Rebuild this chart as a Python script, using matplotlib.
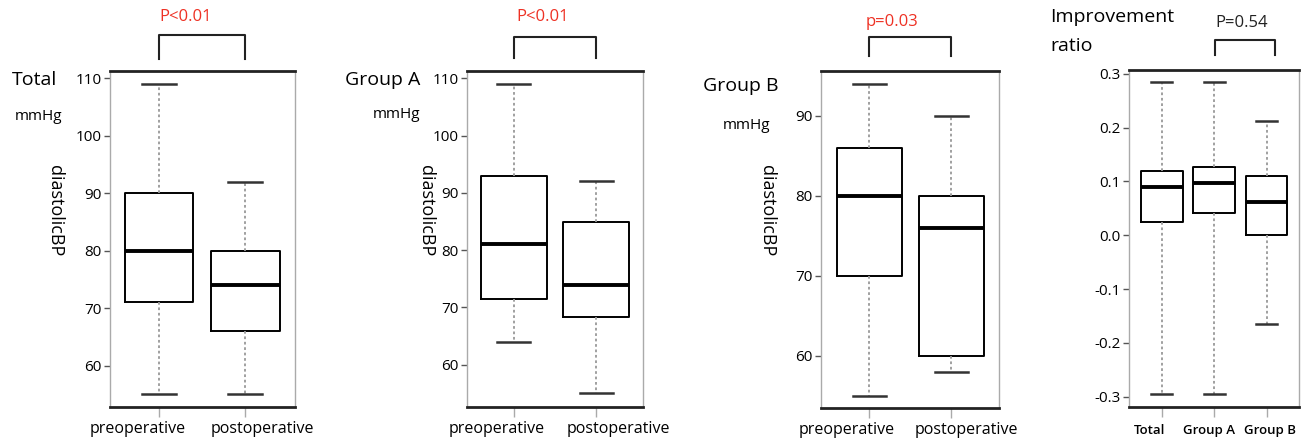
import matplotlib
matplotlib.use("Agg")
import matplotlib.pyplot as plt
import matplotlib.transforms as mtransforms

plt.rcParams['font.family'] = ['Open Sans', 'DejaVu Sans']

W, H = 1314, 440

# ---- data ----
bp_labels = ["preoperative", "postoperative"]

total_whislo = [55, 55]
total_q1 = [71, 66]
total_med = [80, 74]
total_q3 = [90, 80]
total_whishi = [109, 92]

groupA_whislo = [64, 55]
groupA_q1 = [71.5, 68.3]
groupA_med = [81, 74]
groupA_q3 = [93, 85]
groupA_whishi = [109, 92]

groupB_whislo = [55, 58]
groupB_q1 = [70, 60]
groupB_med = [80, 76]
groupB_q3 = [86, 80]
groupB_whishi = [94, 90]

ratio_labels = ["Total", "Group A", "Group B"]
ratio_whislo = [-0.295, -0.295, -0.165]
ratio_q1 = [0.025, 0.042, 0.0]
ratio_med = [0.090, 0.098, 0.061]
ratio_q3 = [0.120, 0.127, 0.111]
ratio_whishi = [0.285, 0.285, 0.213]

p_texts = ["P<0.01", "P<0.01", "p=0.03", "P=0.54"]


def stats(labels, lo, q1, med, q3, hi):
    return [dict(label=l, whislo=a, q1=b, med=c, q3=d, whishi=e, fliers=[])
            for l, a, b, c, d, e in zip(labels, lo, q1, med, q3, hi)]


fig = plt.figure(figsize=(W / 100, H / 100), dpi=100)


def px_axes(left, top, right, bottom):
    return fig.add_axes([left / W, (H - bottom) / H, (right - left) / W, (bottom - top) / H])


def style_box(ax, st, ylim, yticks, xlim, label_shifts, tick_fmt=None, xtick_bold=False):
    n = len(st)
    ax.bxp(st, positions=range(1, n + 1), widths=0.8, showfliers=False,
           boxprops=dict(color='black', linewidth=1.4),
           medianprops=dict(color='black', linewidth=2.8),
           whiskerprops=dict(color='#999999', linewidth=1.3, linestyle=(0, (1.5, 1.5))),
           capprops=dict(color='#333333', linewidth=1.8), capwidths=0.4)
    ax.set_ylim(*ylim)
    ax.set_xlim(*xlim)
    ax.set_yticks(yticks)
    if tick_fmt:
        ax.set_yticklabels([tick_fmt.format(v) for v in yticks])
    for s in ['top', 'bottom']:
        ax.spines[s].set_linewidth(2.0)
        ax.spines[s].set_color('#222222')
    for s in ['left', 'right']:
        ax.spines[s].set_linewidth(1.0)
        ax.spines[s].set_color('#aaaaaa')
        ax.spines[s].set_linestyle((0, (1, 1)))
    ax.tick_params(axis='y', length=4, width=1, color='#555555', labelsize=11, pad=2)
    ax.tick_params(axis='x', length=7, width=1, color='#aaaaaa',
                   labelsize=(9.5 if xtick_bold else 11.5), pad=(5.5 if xtick_bold else 3))
    for t, dx in zip(ax.get_xticklabels(), label_shifts):
        t.set_transform(t.get_transform() + mtransforms.ScaledTranslation(dx / 100, 0, fig.dpi_scale_trans))
        if xtick_bold:
            t.set_fontweight('semibold')


def bracket(ax, x1, x2, y_low, y_high, text, ty, tx, color):
    tr = mtransforms.blended_transform_factory(ax.transData, ax.transAxes)
    ax.plot([x1, x1, x2, x2], [y_low, y_high, y_high, y_low], color='#222222',
            linewidth=1.5, transform=tr, clip_on=False)
    ax.text(tx, ty, text, transform=tr, ha='center', va='center', color=color, fontsize=12)


# Panel 1: Total
ax1 = px_axes(110, 71, 295, 407)
style_box(ax1, stats(bp_labels, total_whislo, total_q1, total_med, total_q3, total_whishi),
          (52.8, 111.3), [60, 70, 80, 90, 100, 110], (0.43, 2.58), [-21, 17])
bracket(ax1, 1, 2, 1.037, 1.107, p_texts[0], 1.16, 1.31, '#ee3124')
fig.text(12 / W, 1 - 80 / H, "Total", fontsize=14, va='center', ha='left')
fig.text(15 / W, 1 - 117 / H, "mmHg", fontsize=11, va='center', ha='left')
fig.text(55 / W, 1 - 211 / H, "diastolicBP", fontsize=13, rotation=-90, va='center', ha='center')

# Panel 2: Group A
ax2 = px_axes(467, 71, 643, 407)
style_box(ax2, stats(bp_labels, groupA_whislo, groupA_q1, groupA_med, groupA_q3, groupA_whishi),
          (52.6, 111.3), [60, 70, 80, 90, 100, 110], (0.43, 2.57), [-17, 22])
bracket(ax2, 1, 2, 1.04, 1.10, p_texts[1], 1.16, 1.35, '#ee3124')
fig.text(345 / W, 1 - 80 / H, "Group A", fontsize=14, va='center', ha='left')
fig.text(373 / W, 1 - 115 / H, "mmHg", fontsize=11, va='center', ha='left')
fig.text(426 / W, 1 - 211 / H, "diastolicBP", fontsize=13, rotation=-90, va='center', ha='center')

# Panel 3: Group B
ax3 = px_axes(821, 71, 999, 408)
style_box(ax3, stats(bp_labels, groupB_whislo, groupB_q1, groupB_med, groupB_q3, groupB_whishi),
          (53.5, 95.6), [60, 70, 80, 90], (0.41, 2.58), [-23, 15])
bracket(ax3, 1, 2, 1.045, 1.10, p_texts[2], 1.145, 1.27, '#ee3124')
fig.text(703 / W, 1 - 86 / H, "Group B", fontsize=14, va='center', ha='left')
fig.text(723 / W, 1 - 125 / H, "mmHg", fontsize=11, va='center', ha='left')
fig.text(767 / W, 1 - 211 / H, "diastolicBP", fontsize=13, rotation=-90, va='center', ha='center')

# Panel 4: Improvement ratio
ax4 = px_axes(1129, 70, 1299, 407)
style_box(ax4, stats(ratio_labels, ratio_whislo, ratio_q1, ratio_med, ratio_q3, ratio_whishi),
          (-0.319, 0.307), [-0.3, -0.2, -0.1, 0.0, 0.1, 0.2, 0.3], (0.37, 3.62), [-12, -5, 3],
          tick_fmt="{:.1f}", xtick_bold=True)
bracket(ax4, 2.02, 3.17, 1.045, 1.09, p_texts[3], 1.14, 2.52, '#222222')
fig.text(1050 / W, 1 - 17 / H, "Improvement", fontsize=14, va='center', ha='left')
fig.text(1050 / W, 1 - 46 / H, "ratio", fontsize=14, va='center', ha='left')

fig.savefig("out.png", dpi=100)
